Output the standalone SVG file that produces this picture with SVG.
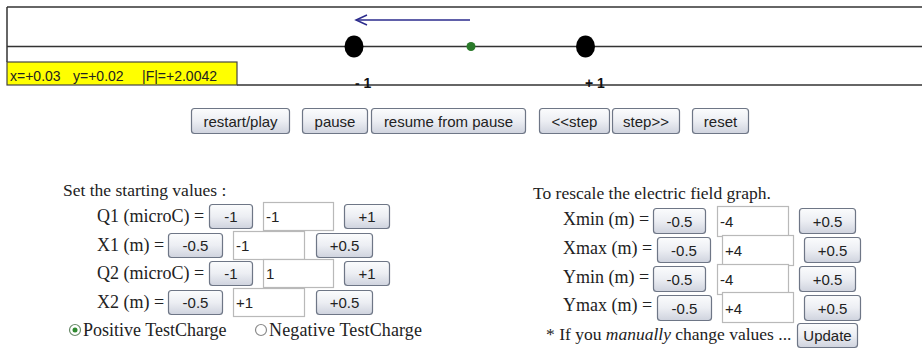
<svg xmlns="http://www.w3.org/2000/svg" width="922" height="349" viewBox="0 0 922 349">
<defs>
<linearGradient id="btnGrad" x1="0" y1="0" x2="0" y2="1">
<stop offset="0" stop-color="#fbfcfd"/>
<stop offset="0.5" stop-color="#eceef3"/>
<stop offset="1" stop-color="#cfd3de"/>
</linearGradient>
</defs>
<style>
.frame{stroke:#333;stroke-width:1.5;fill:none}
.btn{fill:url(#btnGrad);stroke:#6e7686;stroke-width:1.2}
.btxt{font-family:"Liberation Sans",Arial,sans-serif;font-size:15px;fill:#222;text-anchor:middle}
.inp{fill:#fff;stroke:#b9b9b9;stroke-width:1.2}
.itxt{font-family:"Liberation Sans",Arial,sans-serif;font-size:15px;fill:#222}
.lbl{font-family:"Liberation Serif","Times New Roman",serif;font-size:18px;fill:#222}
.hd{font-family:"Liberation Serif","Times New Roman",serif;font-size:17.5px;fill:#222}
.note{font-family:"Liberation Serif","Times New Roman",serif;font-size:17.5px;fill:#222}
.ytxt{font-family:"Liberation Sans",Arial,sans-serif;font-size:14px;fill:#222}
.qlbl{font-family:"Liberation Sans",Arial,sans-serif;font-size:14px;font-weight:bold;fill:#111}
</style>
<rect width="922" height="349" fill="#fff"/>

<g id="field-view">
<line class="frame" x1="7" y1="7" x2="922" y2="7"/>
<line class="frame" x1="7" y1="7" x2="7" y2="62"/>
<line class="frame" x1="7" y1="46.5" x2="922" y2="46.5"/>
<line class="frame" x1="237" y1="85" x2="922" y2="85"/>
</g>

<g id="readout">
<rect x="7" y="62" width="230" height="23" fill="#ffff00" stroke="#444" stroke-width="1.2"/>
<text class="ytxt" x="10" y="81">x=+0.03</text>
<text class="ytxt" x="73" y="81">y=+0.02</text>
<text class="ytxt" x="142" y="81">|F|=+2.0042</text>
</g>

<g id="connectors">
<line x1="356" y1="20" x2="470" y2="20" stroke="#2b2b8c" stroke-width="1.5"/>
<polyline points="367,15 356,20 367,25" fill="none" stroke="#2b2b8c" stroke-width="1.5"/>
</g>

<g id="charge-q1">
<ellipse cx="354" cy="46.5" rx="9.5" ry="11" fill="#000"/>
<text class="qlbl" x="355" y="88">- 1</text>
</g>
<g id="test-charge">
<circle cx="471" cy="46.5" r="4.5" fill="#2a7a2a"/>
</g>
<g id="charge-q2">
<ellipse cx="585.5" cy="46.5" rx="9.5" ry="11" fill="#000"/>
<text class="qlbl" x="585" y="88">+ 1</text>
</g>

<g id="controls">
<rect class="btn" x="191.5" y="108.5" width="98" height="25" rx="3"/><text class="btxt" x="240.5" y="126.5">restart/play</text>
<rect class="btn" x="302.5" y="108.5" width="65" height="25" rx="3"/><text class="btxt" x="335" y="126.5">pause</text>
<rect class="btn" x="371.5" y="108.5" width="154" height="25" rx="3"/><text class="btxt" x="448.5" y="126.5">resume from pause</text>
<rect class="btn" x="539.5" y="108.5" width="70" height="25" rx="3"/><text class="btxt" x="574.5" y="126.5">&lt;&lt;step</text>
<rect class="btn" x="612.5" y="108.5" width="67" height="25" rx="3"/><text class="btxt" x="646" y="126.5">step&gt;&gt;</text>
<rect class="btn" x="692.5" y="108.5" width="56" height="25" rx="3"/><text class="btxt" x="720.5" y="126.5">reset</text>
</g>

<g id="starting-values">
<text class="hd" x="63" y="196">Set the starting values :</text>

<text class="lbl" x="97" y="222">Q1 (microC) =</text>
<rect class="btn" x="209.5" y="204.5" width="43" height="24" rx="3"/><text class="btxt" x="231" y="221.5">-1</text>
<rect class="inp" x="263.5" y="202.5" width="70" height="28"/><text class="itxt" x="266" y="221.5">-1</text>
<rect class="btn" x="344.5" y="204.5" width="45" height="24" rx="3"/><text class="btxt" x="367" y="221.5">+1</text>

<text class="lbl" x="97" y="251">X1 (m) =</text>
<rect class="btn" x="168.5" y="233.5" width="54" height="24" rx="3"/><text class="btxt" x="195.5" y="250.5">-0.5</text>
<rect class="inp" x="233.5" y="231.5" width="71" height="28"/><text class="itxt" x="236" y="250.5">-1</text>
<rect class="btn" x="316.5" y="233.5" width="56" height="24" rx="3"/><text class="btxt" x="344.5" y="250.5">+0.5</text>

<text class="lbl" x="97" y="279">Q2 (microC) =</text>
<rect class="btn" x="209.5" y="261.5" width="43" height="24" rx="3"/><text class="btxt" x="231" y="278.5">-1</text>
<rect class="inp" x="263.5" y="259.5" width="70" height="28"/><text class="itxt" x="266" y="278.5">1</text>
<rect class="btn" x="344.5" y="261.5" width="45" height="24" rx="3"/><text class="btxt" x="367" y="278.5">+1</text>

<text class="lbl" x="97" y="308">X2 (m) =</text>
<rect class="btn" x="168.5" y="290.5" width="54" height="24" rx="3"/><text class="btxt" x="195.5" y="307.5">-0.5</text>
<rect class="inp" x="233.5" y="288.5" width="71" height="28"/><text class="itxt" x="236" y="307.5">+1</text>
<rect class="btn" x="316.5" y="290.5" width="56" height="24" rx="3"/><text class="btxt" x="344.5" y="307.5">+0.5</text>

<circle cx="75" cy="330" r="5.5" fill="#fff" stroke="#6a8a6a" stroke-width="1.2"/>
<circle cx="75" cy="330" r="2.5" fill="#2f8a2f"/>
<text class="lbl" x="83" y="336">Positive TestCharge</text>
<circle cx="261" cy="330" r="5.5" fill="#fff" stroke="#8a8a8a" stroke-width="1.2"/>
<text class="lbl" x="269" y="336" textLength="153">Negative TestCharge</text>
</g>

<g id="rescale">
<text class="hd" x="533" y="199">To rescale the electric field graph.</text>

<text class="lbl" x="563" y="225">Xmin (m) =</text>
<rect class="btn" x="653.5" y="208.5" width="52" height="25" rx="3"/><text class="btxt" x="679.5" y="226.5">-0.5</text>
<rect class="inp" x="717.5" y="206.5" width="71" height="30"/><text class="itxt" x="720" y="226.5">-4</text>
<rect class="btn" x="799.5" y="208.5" width="56" height="25" rx="3"/><text class="btxt" x="827.5" y="226.5">+0.5</text>

<text class="lbl" x="563" y="254">Xmax (m) =</text>
<rect class="btn" x="657.5" y="237.5" width="53" height="25" rx="3"/><text class="btxt" x="684" y="255.5">-0.5</text>
<rect class="inp" x="722.5" y="235.5" width="71" height="30"/><text class="itxt" x="725" y="255.5">+4</text>
<rect class="btn" x="804.5" y="237.5" width="56" height="25" rx="3"/><text class="btxt" x="832.5" y="255.5">+0.5</text>

<text class="lbl" x="563" y="283">Ymin (m) =</text>
<rect class="btn" x="653.5" y="266.5" width="52" height="25" rx="3"/><text class="btxt" x="679.5" y="284.5">-0.5</text>
<rect class="inp" x="717.5" y="264.5" width="71" height="30"/><text class="itxt" x="720" y="284.5">-4</text>
<rect class="btn" x="799.5" y="266.5" width="56" height="25" rx="3"/><text class="btxt" x="827.5" y="284.5">+0.5</text>

<text class="lbl" x="563" y="311">Ymax (m) =</text>
<rect class="btn" x="657.5" y="295.5" width="54" height="25" rx="3"/><text class="btxt" x="684.5" y="313.5">-0.5</text>
<rect class="inp" x="722.5" y="292.5" width="71" height="30"/><text class="itxt" x="725" y="313.5">+4</text>
<rect class="btn" x="804.5" y="295.5" width="56" height="25" rx="3"/><text class="btxt" x="832.5" y="313.5">+0.5</text>

<text class="note" x="546" y="340">* If you <tspan font-style="italic">manually</tspan> change values ...</text>
<rect class="btn" x="797.5" y="323.5" width="60" height="24" rx="3"/><text class="btxt" x="827.5" y="340.5">Update</text>
</g>
</svg>
